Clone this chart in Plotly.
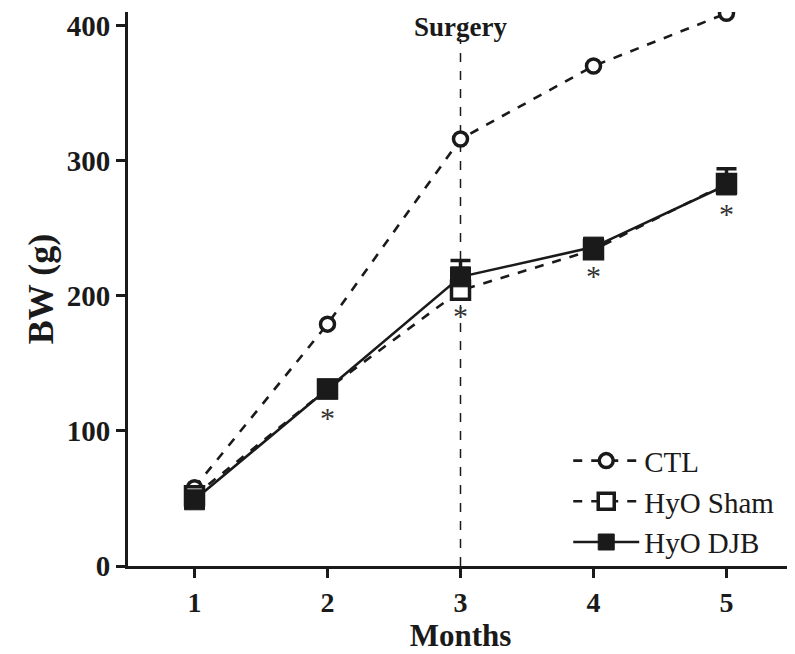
import plotly.graph_objects as go

months = [1, 2, 3, 4, 5]
ctl = [58, 179, 316, 370, 409]
hyo_sham = [52, 131, 204, 234, 283]
hyo_djb = [49, 131, 214, 236, 282]
djb_err_up = [0, 0, 12, 4, 12]
djb_err_down = [0, 0, 0, 0, 0]

star_months = [2, 3, 4, 5]
star_y = [108, 183, 213, 259]

surgery_month = 3
y_ticks = [0, 100, 200, 300, 400]

INK = "#1a1a1a"
SERIF = "Liberation Serif, Times New Roman, serif"

fig = go.Figure()

fig.add_trace(go.Scatter(
    x=months, y=ctl, name="CTL", mode="lines+markers",
    line=dict(color=INK, width=2.6, dash="dash"),
    marker=dict(symbol="circle", size=14, color="white",
                line=dict(color=INK, width=3.5)),
))
fig.add_trace(go.Scatter(
    x=months, y=hyo_sham, name="HyO Sham", mode="lines+markers",
    line=dict(color=INK, width=2.6, dash="dash"),
    marker=dict(symbol="square", size=18, color="white",
                line=dict(color=INK, width=3.5)),
))
fig.add_trace(go.Scatter(
    x=months, y=hyo_djb, name="HyO DJB", mode="lines+markers",
    line=dict(color=INK, width=2.6),
    marker=dict(symbol="square", size=20, color=INK,
                line=dict(color=INK, width=1)),
    error_y=dict(type="data", symmetric=False, array=djb_err_up,
                 arrayminus=djb_err_down, color=INK, thickness=3.5, width=10),
))

fig.add_trace(go.Scatter(
    x=star_months, y=star_y, mode="text", text=["*"] * len(star_months),
    textfont=dict(family=SERIF, size=30, color="#333333"),
    showlegend=False, hoverinfo="skip",
))

fig.add_shape(type="line", x0=surgery_month, x1=surgery_month, y0=0, y1=390,
              xref="x", yref="y", line=dict(color=INK, width=1.5, dash="dash"),
              layer="below")
fig.add_annotation(x=surgery_month, y=399, xref="x", yref="y", text="<b>Surgery</b>",
                   showarrow=False, font=dict(family=SERIF, size=27, color=INK))

fig.update_layout(
    width=787, height=646,
    margin=dict(l=120, r=2, t=4, b=88),
    paper_bgcolor="white", plot_bgcolor="white",
    font=dict(family=SERIF, color=INK),
    legend=dict(x=0.662, y=0.236, xanchor="left", yanchor="top",
                font=dict(family=SERIF, size=29, color=INK),
                bgcolor="rgba(0,0,0,0)", itemwidth=66, tracegroupgap=0),
    showlegend=True,
)
fig.update_xaxes(
    range=[0.5, 5.5], tickvals=months, ticktext=[f"<b>{m}</b>" for m in months],
    showline=True, linecolor=INK, linewidth=3, ticks="outside", ticklen=9,
    tickwidth=3, tickcolor=INK, showgrid=False, zeroline=False,
    tickfont=dict(family=SERIF, size=28, color=INK),
    title=dict(text="<b>Months</b>", font=dict(family=SERIF, size=31, color=INK), standoff=3),
)
fig.update_yaxes(
    range=[0, 410], tickvals=y_ticks, ticktext=[f"<b>{v}</b>" for v in y_ticks],
    showline=True, linecolor=INK, linewidth=3, ticks="outside", ticklen=9,
    tickwidth=3, tickcolor=INK, showgrid=False, zeroline=False,
    tickfont=dict(family=SERIF, size=29, color=INK),
    title=dict(text="<b>BW (g)</b>", font=dict(family=SERIF, size=36, color=INK), standoff=3),
)

fig.write_html("out.html")
